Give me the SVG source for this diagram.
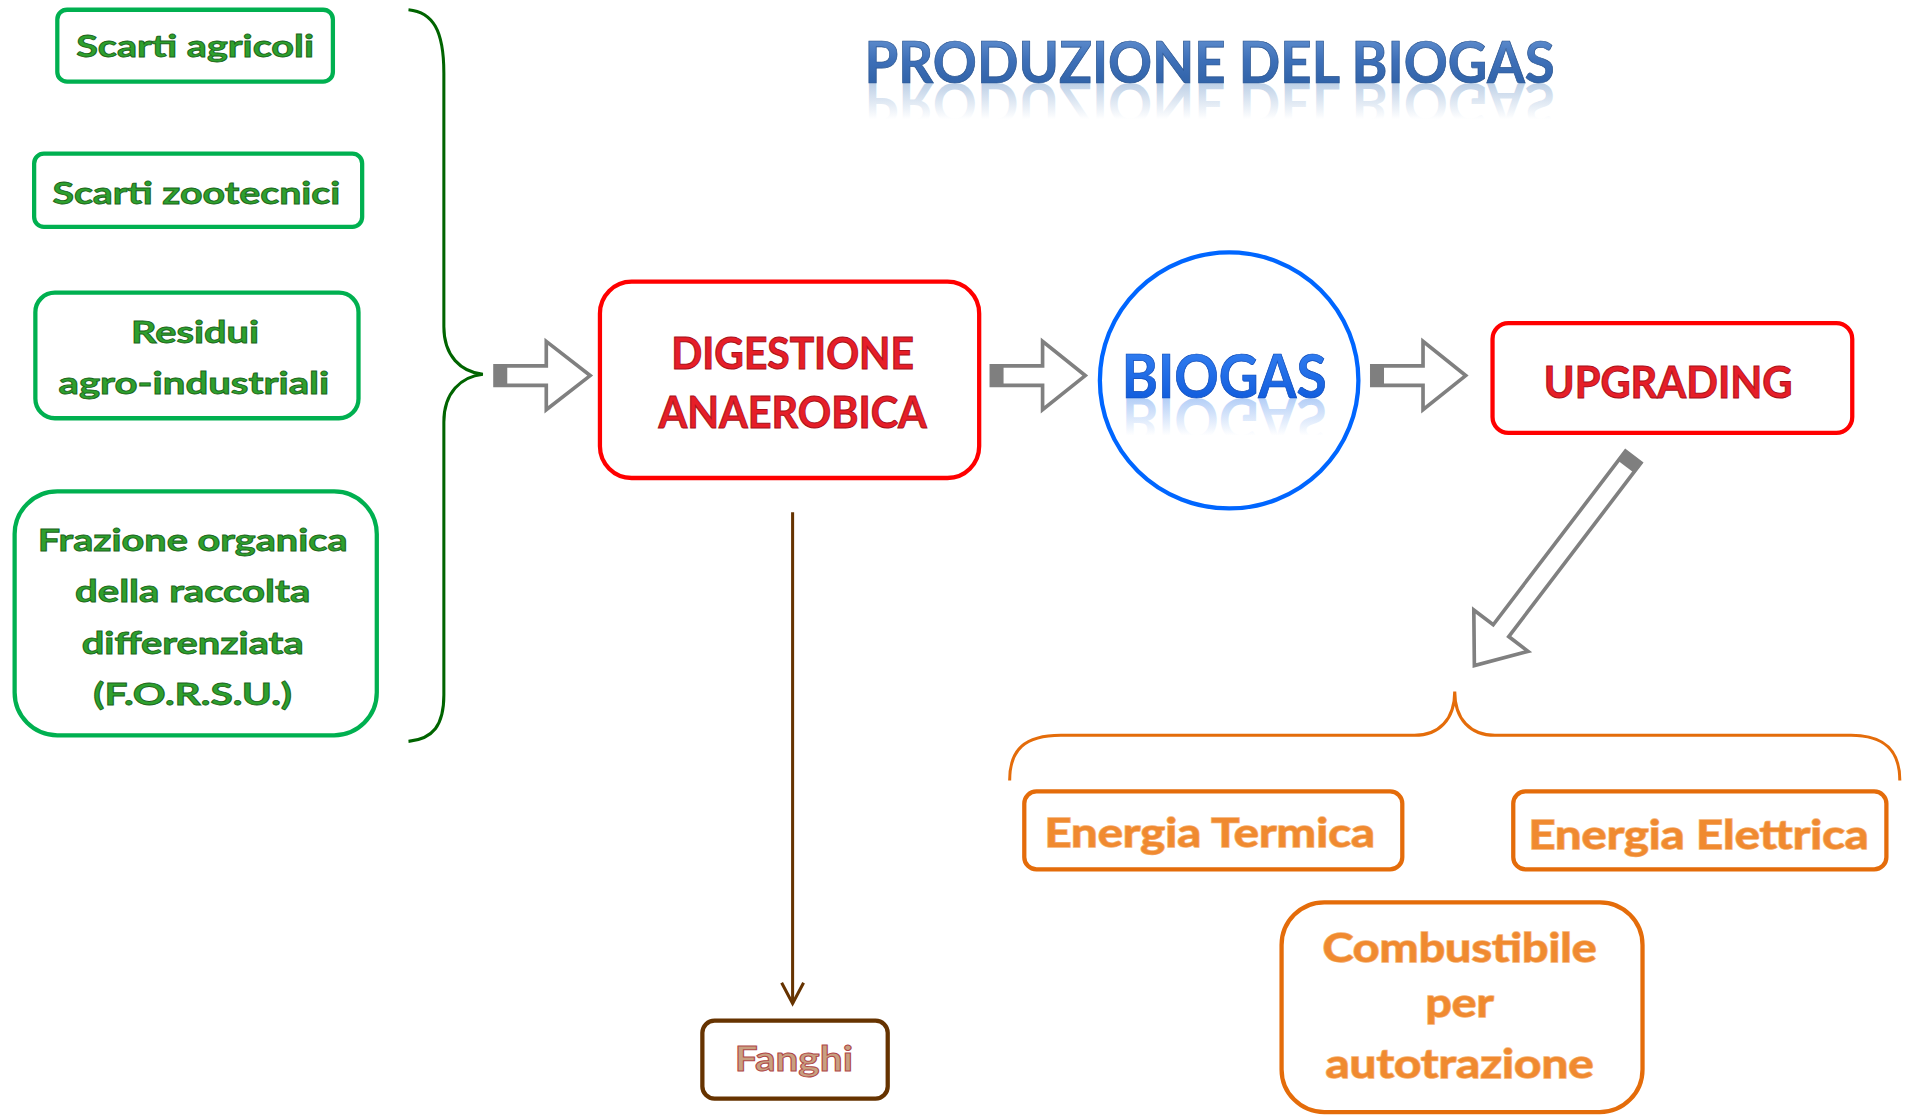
<svg xmlns="http://www.w3.org/2000/svg" width="1912" height="1116" viewBox="0 0 1912 1116">
<defs>
<style>
.gbox{fill:#fff;stroke:#00B050;stroke-width:3.5}
.rbox{fill:#fff;stroke:#FF0000;stroke-width:3.5}
.obox{fill:#fff;stroke:#E46C0A;stroke-width:3.5}
.bbox{fill:#fff;stroke:#663300;stroke-width:3.5}
.t{font-family:Lato,"Open Sans","Liberation Sans",sans-serif;font-weight:bold;text-anchor:middle}
.gt{fill:#2EA02E;stroke:#1A641A;stroke-width:0.7;font-size:25px}
.rt{fill:#E61E28;stroke:#A8101A;stroke-width:0.8;font-size:36px}
.ot{fill:#F08A30;stroke:#F5B070;stroke-width:1.2;font-size:33px;paint-order:stroke}
.blk{fill:#fff;stroke:#808080;stroke-width:3}
.tail{fill:#7F7F7F}
.brace{fill:none;stroke-width:2.5}
</style>
<linearGradient id="titleG" x1="0" y1="0" x2="0" y2="1">
<stop offset="0" stop-color="#6E9BD8"/><stop offset="0.5" stop-color="#3E70B8"/><stop offset="1" stop-color="#2A5CA0"/>
</linearGradient>
<linearGradient id="titleR" x1="0" y1="0" x2="0" y2="1">
<stop offset="0.3" stop-color="#4F81BD" stop-opacity="0"/><stop offset="1" stop-color="#4F81BD" stop-opacity="0.5"/>
</linearGradient>
<linearGradient id="bioG" x1="0" y1="0" x2="0" y2="1">
<stop offset="0" stop-color="#3A86F5"/><stop offset="1" stop-color="#0A55D8"/>
</linearGradient>
<linearGradient id="bioR" x1="0" y1="0" x2="0" y2="1">
<stop offset="0.3" stop-color="#1A6BE6" stop-opacity="0"/><stop offset="1" stop-color="#1A6BE6" stop-opacity="0.45"/>
</linearGradient>
</defs>
<rect width="1912" height="1116" fill="#fff"/>
<g transform="scale(1.21939)">
<g id="title">
<text class="t" x="992" y="68" font-size="47" fill="url(#titleG)" stroke="#2A5590" stroke-width="0.6" textLength="566" lengthAdjust="spacingAndGlyphs">PRODUZIONE DEL BIOGAS</text>
<text class="t" x="992" y="68" font-size="47" fill="url(#titleR)" transform="translate(0,136) scale(1,-1)" textLength="566" lengthAdjust="spacingAndGlyphs">PRODUZIONE DEL BIOGAS</text>
</g>
<g id="connectors">
<path class="brace" stroke="#006400" d="M335,8 C355,10 364,25 364,60 L364,268 C364,292 378,305 396,307 C378,309 364,322 364,346 L364,570 C364,595 355,606 335,608"/>
<g id="arrow1"><polygon class="blk" points="406,300 448,300 448,280 484,308 448,336 448,316 406,316"/><rect class="tail" x="405" y="299" width="11" height="18"/></g>
<g id="arrow2"><polygon class="blk" points="813,300 855,300 855,280 890,308 855,336 855,316 813,316"/><rect class="tail" x="812" y="299" width="11" height="18"/></g>
<g id="arrow3"><polygon class="blk" points="1125,300 1167,300 1167,280 1202,308 1167,336 1167,316 1125,316"/><rect class="tail" x="1124" y="299" width="11" height="18"/></g>
<g id="arrow4" transform="translate(1340,374) rotate(127.3)"><polygon class="blk" points="1,-8 180,-8 180,-28 216,0 180,28 180,8 1,8"/><rect class="tail" x="0" y="-9" width="11" height="18"/></g>
<path class="brace" stroke="#E46C0A" d="M828,640 C828,615 840,603 870,603 L1160,603 C1180,603 1193,590 1193,567 C1193,590 1206,603 1226,603 L1518,603 C1545,603 1558,615 1558,640"/>
<g id="arrow5" fill="none" stroke="#663300" stroke-width="2.5"><line x1="650" y1="420" x2="650" y2="823"/><polyline points="641,806 650,823 659,806"/></g>
</g>
<g id="scarti-agricoli"><rect class="gbox" x="47" y="8" width="226" height="59" rx="8"/><text class="t gt" x="160" y="47" textLength="195" lengthAdjust="spacingAndGlyphs">Scarti agricoli</text></g>
<g id="scarti-zootecnici"><rect class="gbox" x="28" y="126" width="269" height="60" rx="8"/><text class="t gt" x="161" y="167" textLength="236" lengthAdjust="spacingAndGlyphs">Scarti zootecnici</text></g>
<g id="residui"><rect class="gbox" x="29" y="240" width="265" height="103" rx="16"/><text class="t gt" x="160" y="281" textLength="105" lengthAdjust="spacingAndGlyphs">Residui</text><text class="t gt" x="159" y="323" textLength="222" lengthAdjust="spacingAndGlyphs">agro-industriali</text></g>
<g id="forsu"><rect class="gbox" x="12" y="403" width="297" height="200" rx="35"/>
<text class="t gt" x="158" y="452" textLength="254" lengthAdjust="spacingAndGlyphs">Frazione organica</text>
<text class="t gt" x="158" y="494" textLength="193" lengthAdjust="spacingAndGlyphs">della raccolta</text>
<text class="t gt" x="158" y="536" textLength="182" lengthAdjust="spacingAndGlyphs">differenziata</text>
<text class="t gt" x="158" y="578" textLength="163" lengthAdjust="spacingAndGlyphs">(F.O.R.S.U.)</text></g>
<g id="digestione"><rect class="rbox" x="492" y="231" width="311" height="161" rx="26"/>
<text class="t rt" x="650" y="303" textLength="199" lengthAdjust="spacingAndGlyphs">DIGESTIONE</text>
<text class="t rt" x="650" y="351" textLength="220" lengthAdjust="spacingAndGlyphs">ANAEROBICA</text></g>
<g id="biogas"><ellipse cx="1008" cy="312" rx="106" ry="105" fill="#fff" stroke="#0066FF" stroke-width="3.5"/>
<text class="t" x="1004" y="326" font-size="50" fill="url(#bioG)" stroke="#0A48B8" stroke-width="0.6" textLength="168" lengthAdjust="spacingAndGlyphs">BIOGAS</text>
<text class="t" x="1004" y="326" font-size="50" fill="url(#bioR)" transform="translate(0,652) scale(1,-1)" textLength="168" lengthAdjust="spacingAndGlyphs">BIOGAS</text></g>
<g id="upgrading"><rect class="rbox" x="1224" y="265" width="295" height="90" rx="13"/><text class="t rt" x="1368" y="326" textLength="204" lengthAdjust="spacingAndGlyphs">UPGRADING</text></g>
<g id="energia-termica"><rect class="obox" x="840" y="649" width="310" height="64" rx="10"/><text class="t ot" x="992" y="695" textLength="271" lengthAdjust="spacingAndGlyphs">Energia Termica</text></g>
<g id="energia-elettrica"><rect class="obox" x="1241" y="649" width="306" height="64" rx="10"/><text class="t ot" x="1393" y="696" textLength="279" lengthAdjust="spacingAndGlyphs">Energia Elettrica</text></g>
<g id="combustibile"><rect class="obox" x="1051" y="740" width="296" height="172" rx="35"/>
<text class="t ot" x="1197" y="789" textLength="225" lengthAdjust="spacingAndGlyphs">Combustibile</text>
<text class="t ot" x="1197" y="834" textLength="56" lengthAdjust="spacingAndGlyphs">per</text>
<text class="t ot" x="1197" y="884" textLength="220" lengthAdjust="spacingAndGlyphs">autotrazione</text></g>
<g id="fanghi"><rect class="bbox" x="576" y="837" width="152" height="64" rx="10"/><text class="t" x="651" y="878" font-size="28" fill="#C8A080" stroke="#B04848" stroke-width="0.8" textLength="97" lengthAdjust="spacingAndGlyphs">Fanghi</text></g>
</g>
</svg>
